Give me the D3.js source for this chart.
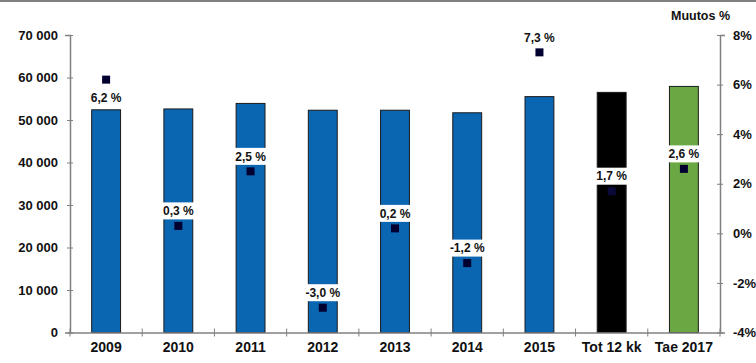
<!DOCTYPE html>
<html>
<head>
<meta charset="utf-8">
<script src="https://cdn.jsdelivr.net/npm/d3@7"></script>
<style>
  body { margin: 0; background: #fff; }
  text { font-family: "Liberation Sans", Arial, sans-serif; font-weight: bold; fill: #111; }
</style>
</head>
<body>
<div id="chart"></div>
<script>
const categories = ["2009", "2010", "2011", "2012", "2013", "2014", "2015", "Tot 12 kk", "Tae 2017"];
const volumes = [52400, 52600, 53900, 52300, 52300, 51700, 55500, 56500, 57900];
const changes = [6.2, 0.3, 2.5, -3.0, 0.2, -1.2, 7.3, 1.7, 2.6];
const leftTicks = [0, 10000, 20000, 30000, 40000, 50000, 60000, 70000];
const rightTicks = [-4, -2, 0, 2, 4, 6, 8];
const barColors = ["#0b66b2", "#0b66b2", "#0b66b2", "#0b66b2", "#0b66b2", "#0b66b2", "#0b66b2", "#000000", "#6aa843"];

const width = 756, height = 363;
const mLeft = 70, mRight = 720, mTop = 35, mBottom = 332.5;

const svg = d3.select("#chart").append("svg")
    .attr("width", width)
    .attr("height", height);

// top border line
svg.append("line")
    .attr("x1", 0).attr("x2", width).attr("y1", 1).attr("y2", 1)
    .attr("stroke", "#808080").attr("stroke-width", 2);

const x = d3.scaleBand().domain(categories).range([mLeft, mRight]).padding(0);
const y = d3.scaleLinear().domain([0, 70000]).range([mBottom, mTop]);
const y2 = d3.scaleLinear().domain([-4, 8]).range([mBottom, mTop]);

const fmt = d => d3.format(",")(d).replace(/,/g, " ");

// bars
svg.selectAll("rect.bar")
    .data(volumes)
    .enter().append("rect")
    .attr("class", "bar")
    .attr("x", (d, i) => x(categories[i]) + x.bandwidth() * 0.3)
    .attr("width", x.bandwidth() * 0.4)
    .attr("y", d => y(d))
    .attr("height", d => y(0) - y(d))
    .attr("fill", (d, i) => barColors[i])
    .attr("stroke", "#1a1a1a")
    .attr("stroke-width", 1);

// left axis
const gl = svg.append("g")
    .attr("transform", `translate(${mLeft},0)`)
    .call(d3.axisLeft(y).tickValues(leftTicks).tickFormat(d => d === 0 ? "0" : fmt(d)).tickSize(5).tickPadding(7));
gl.selectAll(".tick line").attr("x2", -3).attr("x1", 3);

// right axis
const gr = svg.append("g")
    .attr("transform", `translate(${mRight},0)`)
    .call(d3.axisRight(y2).tickValues(rightTicks).tickFormat(d => d + "%").tickSize(5).tickPadding(10));
gr.selectAll(".tick line").attr("x1", -3).attr("x2", 3);

// bottom axis
const gb = svg.append("g")
    .attr("transform", `translate(0,${mBottom})`)
    .call(d3.axisBottom(x).tickSize(0).tickPadding(10));
gb.selectAll(".tick text").attr("font-size", 14);
gb.selectAll("line.sep")
    .data(d3.range(categories.length + 1))
    .enter().append("line")
    .attr("class", "sep")
    .attr("x1", i => mLeft + i * x.bandwidth())
    .attr("x2", i => mLeft + i * x.bandwidth())
    .attr("y1", -4).attr("y2", 4)
    .attr("stroke", "#808080");

[gl, gr, gb].forEach(g => {
    g.select(".domain").attr("stroke", "#808080").attr("stroke-width", 1.5);
    g.selectAll(".tick line").attr("stroke", "#808080");
    g.selectAll("text").attr("fill", "#111").style("font-family", "'Liberation Sans', Arial, sans-serif").style("font-weight", "bold");
});
gl.selectAll("text").attr("font-size", 13);
gr.selectAll("text").attr("font-size", 13).attr("dx", -2);

svg.append("text")
    .attr("x", 730).attr("y", 20)
    .attr("text-anchor", "end")
    .attr("font-size", 12.5)
    .text("Muutos %");

// markers
const ms = 8;
svg.selectAll("rect.marker")
    .data(changes)
    .enter().append("rect")
    .attr("class", "marker")
    .attr("x", (d, i) => x(categories[i]) + x.bandwidth() / 2 - ms / 2)
    .attr("y", d => y2(d) - ms / 2)
    .attr("width", ms).attr("height", ms)
    .attr("fill", (d, i) => i === 7 ? "#0a0a3a" : "#000030");

// labels with white boxes
const lab = svg.selectAll("g.lab")
    .data(changes)
    .enter().append("g")
    .attr("class", "lab")
    .attr("transform", (d, i) => {
        const cx = x(categories[i]) + x.bandwidth() / 2;
        const cy = i === 0 ? y2(d) + 18 : y2(d) - 15;
        return `translate(${cx},${cy})`;
    });
lab.append("rect")
    .attr("x", -24).attr("y", -8.5)
    .attr("width", 48).attr("height", 17)
    .attr("fill", (d, i) => (i === 0 || i === 6) ? "none" : "#fff");
lab.append("text")
    .attr("text-anchor", "middle")
    .attr("dy", "0.35em")
    .attr("font-size", 12)
    .text(d => d.toFixed(1).replace(".", ",") + " %");
</script>
</body>
</html>
